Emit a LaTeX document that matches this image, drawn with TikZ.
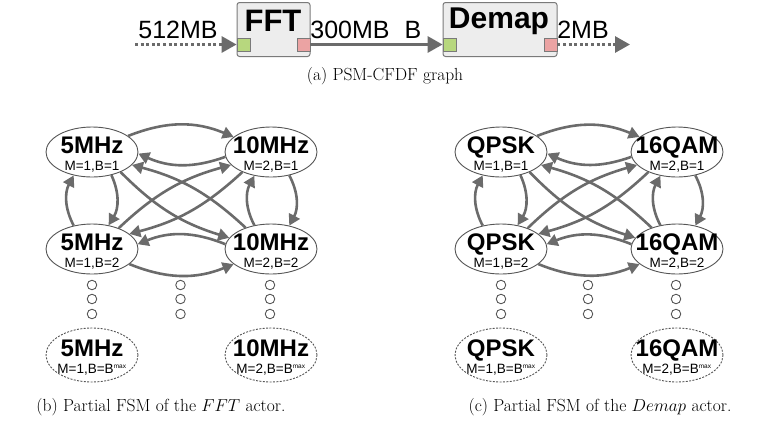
\documentclass[tikz,border=0pt]{standalone}
\usepackage{fontspec}
\newfontfamily\lsans{Liberation Sans}
\usetikzlibrary{arrows.meta,shapes.geometric}
\definecolor{edgegray}{HTML}{6B6B6B}
\definecolor{linegray}{HTML}{555555}
\definecolor{boxfill}{HTML}{EDEDED}
\definecolor{boxline}{HTML}{7A7A7A}
\definecolor{portgreen}{HTML}{B7D77E}
\definecolor{portred}{HTML}{EBA3A3}
\newcommand\bmax{B=B\textsuperscript{\fontsize{6.5}{6}\selectfont max}}
% #1 name, #2 x, #3 y (centre), #4 big text, #5 small text, #6 style
\newcommand\stnode[6]{%
  \node[#6] (#1) at (#2,#3) {};
  \node[bigt] (#1a) at (#2,#3+1.5) {#4};
  \node[smallt] (#1b) at (#2,#3+18.5) {#5};
}
\newcommand\fsmgraph[5]{%
  \stnode{#1tl}{#2}{152}{#4}{M=1,B=1}{state}
  \stnode{#1tr}{#3}{152}{#5}{M=2,B=1}{state}
  \stnode{#1bl}{#2}{249}{#4}{M=1,B=2}{state}
  \stnode{#1br}{#3}{249}{#5}{M=2,B=2}{state}
  \stnode{#1xl}{#2}{355}{#4}{M=1,\bmax}{dstate}
  \stnode{#1xr}{#3}{355}{#5}{M=2,\bmax}{dstate}
  \foreach \yy [count=\i] in {285,299,314} {
    \node[dotc] (#1dl\i) at (#2,\yy) {};
    \node[dotc] (#1dm\i) at ({(#2+#3)/2-1},\yy) {};
    \node[dotc] (#1dr\i) at ({#3-1},\yy) {};
  }
  % horizontal
  \draw[trans] (#1tl.24) to[bend left=22] (#1tr.158);
  \draw[trans] (#1tr.186) to[bend left=22] (#1tl.-2);
  \draw[trans] (#1br.174) to[bend right=22] (#1bl.6);
  \draw[trans] (#1bl.-22) to[bend right=22] (#1br.-158);
  % vertical
  \draw[trans] (#1tl.-50) to[bend left=28] (#1bl.55);
  \draw[trans] (#1bl.128) to[bend left=28] (#1tl.-128);
  \draw[trans] (#1tr.-52) to[bend left=28] (#1br.52);
  \draw[trans] (#1br.125) to[bend left=28] (#1tr.-125);
  % diagonals
  \draw[trans] (#1tl.-35) to[bend right=14] (#1br.165);
  \draw[trans] (#1br.140) to[bend right=14] (#1tl.-18);
  \draw[trans] (#1bl.38) to[bend left=14] (#1tr.198);
  \draw[trans] (#1tr.-145) to[bend left=14] (#1bl.22);
}
\begin{document}
\begin{tikzpicture}[x=1pt,y=-1pt,
  actor/.style={draw=boxline, fill=boxfill, rounded corners=2.5pt, line width=1pt,
    minimum height=54pt, inner sep=0pt},
  port/.style={draw=boxline, line width=0.8pt, minimum size=13pt, inner sep=0pt},
  state/.style={ellipse, draw=linegray, fill=white, line width=0.9pt, minimum width=92pt,
    minimum height=50pt, inner sep=0pt},
  dstate/.style={state, dash pattern=on 2pt off 1.4pt, minimum height=54pt},
  bigt/.style={font=\lsans\bfseries\fontsize{24}{24}\selectfont, inner sep=0pt, anchor=base},
  smallt/.style={font=\lsans\fontsize{13.5}{14}\selectfont, inner sep=0pt, anchor=base},
  dotc/.style={circle, draw=linegray, line width=0.9pt, minimum size=9.5pt, inner sep=0pt},
  trans/.style={draw=edgegray, line width=2.6pt, -{Triangle[length=11pt,width=12pt]}},
  flow/.style={draw=edgegray, line width=3pt, -{Triangle[length=15pt,width=16pt]}},
  dflow/.style={flow, dash pattern=on 3pt off 2.6pt},
  lbl/.style={font=\lsans\fontsize{25}{25}\selectfont, inner sep=0pt, anchor=base},
  captxt/.style={font=\fontsize{17.5}{20}\selectfont, inner sep=0pt}
]
\useasboundingbox (0,0) rectangle (770,424);
% (a) PSM-CFDF graph
\node[actor, minimum width=73pt] (fft) at (273.5,29.5) {};
\node[actor, minimum width=114pt] (dem) at (500,29.5) {};
\node[font=\lsans\bfseries\fontsize{31}{31}\selectfont, inner sep=0pt] (fftt) at (273,21) {FFT};
\node[font=\lsans\bfseries\fontsize{30}{30}\selectfont, inner sep=0pt] (demt) at (499,21) {Demap};
\node[port, fill=portgreen] (g1) at (243.5,44.5) {};
\node[port, fill=portred] (r1) at (303.5,44.5) {};
\node[port, fill=portgreen] (g2) at (449.5,44.5) {};
\node[port, fill=portred] (r2) at (550.5,44.5) {};
\coordinate (in0) at (135,44.5);
\coordinate (out0) at (630,44.5);
\draw[dflow] (in0) -- (g1.west);
\draw[flow] (r1.east) -- (g2.west);
\draw[dflow] (r2.east) -- (out0);
\node[lbl] (l512) at (178,38) {512MB};
\node[lbl] (l300) at (350,38) {300MB};
\node[lbl] (lB) at (413,38) {B};
\node[lbl] (l2) at (583,38) {2MB};
\node[captxt] (capa) at (385,76) {(a) PSM-CFDF graph};
% (b) and (c)
\fsmgraph{b}{92}{271}{5MHz}{10MHz}
\fsmgraph{c}{501}{677}{QPSK}{16QAM}
\node[captxt] (capb) at (161,407) {(b) Partial FSM of the $FFT$ actor.};
\node[captxt] (capc) at (600,407) {(c) Partial FSM of the $Demap$ actor.};
\end{tikzpicture}
\end{document}
